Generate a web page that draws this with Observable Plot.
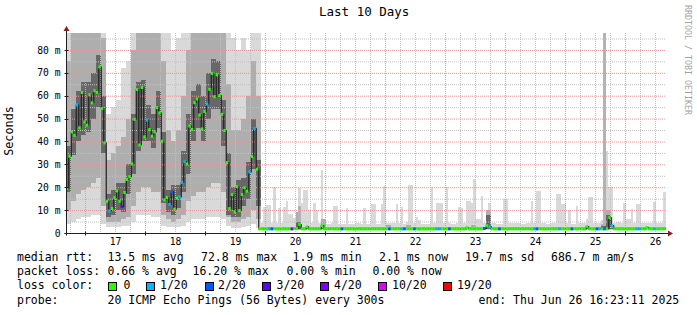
<!DOCTYPE html>
<html><head><meta charset="utf-8">
<script src="https://cdn.jsdelivr.net/npm/d3@7"></script>
<script src="https://cdn.jsdelivr.net/npm/@observablehq/plot@0.6"></script>
<style>
html,body{margin:0;padding:0;background:#fff;}
#wrap{position:relative;width:697px;height:315px;overflow:hidden;font-family:"DejaVu Sans Mono",monospace;background:#fff;}
#wrap svg{position:absolute;left:0;top:0;}
.t{position:absolute;white-space:pre;color:#000;line-height:1;}
</style></head><body><div id="wrap"></div>
<script>
// ---------- DATA ----------
const startUTC = Date.UTC(2025, 5, 16, 16, 23, 11);
const endUTC = Date.UTC(2025, 5, 26, 16, 23, 11);
const yMax = 87.4;

// hourly median rtt (ms), one value per hour column
const median = [
19.7,33.8,44.4,42.9,56.2,46.2,61.6,48.8,47.3,60.6,
57.1,62.4,61.7,72.8,54.6,39.6,14.1,9.9,10.9,15.6,
18.6,14.1,11.7,17.9,23.6,24.8,30.4,49.9,62.9,38.7,
63.8,42.2,49.6,45.4,42.5,44.4,55.0,52.7,40.3,14.7,
15.7,12.7,18.2,10.6,15.4,16.0,22.3,31.3,30.4,47.0,
45.5,57.2,58.8,51.8,45.7,53.3,56.6,63.0,70.0,59.8,
69.3,60.3,52.1,45.0,31.0,10.9,17.0,9.5,20.5,10.0,
17.0,20.0,18.5,26.9,33.6,45.9,28.1,
2.0,2.1,2.0,2.0,2.0,2.0,2.0,2.0,1.9,2.0,
2.0,2.0,2.0,2.0,2.1,2.2,3.9,2.0,2.0,2.9,
2.0,2.0,2.0,2.0,2.0,3.5,2.0,2.0,2.0,2.1,
2.0,2.0,2.0,2.0,2.0,2.0,2.0,2.0,1.9,2.0,
2.0,2.0,2.0,2.0,2.0,2.0,2.0,2.0,2.0,2.0,
2.0,2.0,2.0,2.0,2.0,2.1,2.0,2.0,2.0,2.0,
2.0,2.0,2.0,2.0,1.9,2.0,2.0,2.0,2.0,2.0,
2.0,2.0,2.0,2.0,2.0,2.0,2.0,2.0,2.0,2.0,
2.0,2.0,2.0,2.5,2.0,2.0,2.0,2.0,2.0,2.0,
2.2,3.4,3.0,2.0,2.0,2.0,2.0,2.0,2.0,2.0,
2.0,2.0,2.0,2.0,2.0,2.0,2.0,2.1,2.0,2.0,
2.0,2.0,2.0,2.0,2.0,2.0,2.0,2.0,2.0,2.0,
2.0,2.0,2.0,2.0,2.0,2.0,2.0,2.0,2.1,2.0,
2.0,3.0,2.0,2.0,2.0,2.0,2.0,2.0,2.0,2.0,
6.9,3.4,2.0,2.0,2.0,2.0,2.0,2.0,2.0,2.0,
2.0,2.0,2.0,2.0,2.0,2.6,2.0,2.0,2.0,2.0,
2.0,2.0,2.1
];

// hour columns with packet loss, and the loss (x/20) in each
const lossIdx = [4,17,22,32,41,42,45,46,47,56,73,75,
  81,82,90,110,129,134,135,139,148,149,153,167,169,173,187,188,197,202,212,213,215,218,228,229,235];
const lossLvl = [1,1,3,1,1,2,1,1,1,1,1,1,
  1,2,4,2,2,1,2,2,1,1,2,2,1,2,1,2,1,2,2,1,2,1,1,1,1];

const lossLevels = [0, 1, 2, 3, 4, 10, 19];
const lossColors = ["#26ff00", "#00b8ff", "#0059ff", "#5e00ff", "#7e00ff", "#dd00ff", "#ff0000"];
const lossLabels = ["0", "1/20", "2/20", "3/20", "4/20", "10/20", "19/20"];

// smoke: ping spread per 2-hour bin (ms) — lowest, 15%, 35%, 65%, 85%, highest
const smokeQ0 = [
4,5,6,7,7,8,8,4,2.5,2.5, 2.5,3,3,5,8,8,8,7,7,3,
2.5,2.5,2.5,3,5,6,6,6,7,7, 7,6,3,2,2,2.5,3,4,2,1.4,
1.4,1.4,1.4,1.4,1.4,1.4,1.4,1.4,1.4,1.4, 1.4,1.4,1.4,1.4,1.4,1.4,1.4,1.4,1.4,1.4,
1.4,1.4,1.4,1.4,1.4,1.4,1.4,1.4,1.4,1.4, 1.4,1.4,1.4,1.4,1.4,1.4,1.4,1.4,1.4,1.4,
1.4,1.4,1.4,1.4,1.4,1.4,1.4,1.4,1.4,1.4, 1.4,1.4,1.4,1.4,1.4,1.4,1.4,1.4,1.4,1.4,
1.4,1.4,1.4,1.4,1.4,1.4,1.4,1.4,1.4,1.4, 1.4,1.4,1.4,1.4,1.4,1.4,1.4,1.4,1.4,1.4
];
const smokeQ15 = [
10,14,17,19,20,22,24,12,5,5, 5,6,7,12,18,20,20,18,18,8,
6,5,6,8,14,16,18,18,20,22, 22,18,7,5,5,6,7,10,6,1.7,
1.7,1.7,1.7,1.7,1.7,1.7,1.7,1.7,1.7,1.7, 1.7,1.7,1.7,1.7,1.7,1.7,1.7,1.7,1.7,1.7,
1.7,1.7,1.7,1.7,1.7,1.7,1.7,1.7,1.7,1.7, 1.7,1.7,1.7,1.7,1.7,1.7,1.7,1.7,1.7,1.7,
1.7,1.7,1.7,1.7,1.7,1.7,1.7,1.7,1.7,1.7, 1.7,1.7,1.7,1.7,1.7,1.7,1.7,1.7,1.7,1.7,
1.7,1.7,1.7,1.7,1.7,1.7,1.7,1.7,1.7,1.7, 1.7,1.7,1.7,1.7,1.7,1.7,1.7,1.7,1.7,1.7
];
const smokeQ35 = [
18,34,40,43,44,50,55,35,7,8, 10,9,17,26,36,40,40,37,46,13,
9,8,11,18,26,40,46,40,50,54, 54,38,8,7,7,12,15,28,12,1.9,
1.9,1.9,1.9,1.9,1.9,1.9,1.9,1.9,1.9,1.9, 1.9,1.9,1.9,1.9,1.9,1.9,1.9,1.9,1.9,1.9,
1.9,1.9,1.9,1.9,1.9,1.9,1.9,1.9,1.9,1.9, 1.9,1.9,1.9,1.9,1.9,1.9,1.9,1.9,1.9,1.9,
1.9,1.9,1.9,1.9,1.9,1.9,1.9,1.9,1.9,1.9, 1.9,1.9,1.9,1.9,1.9,1.9,1.9,1.9,1.9,1.9,
1.9,1.9,1.9,1.9,1.9,1.9,1.9,1.9,1.9,1.9, 1.9,1.9,1.9,1.9,1.9,1.9,1.9,1.9,1.9,1.9
];
const smokeQ65 = [
38,54,62,66,66,70,78,60,17,19, 22,22,30,52,66,67,56,52,62,44,
19,21,21,36,52,62,65,60,70,76, 75,58,35,20,23,24,31,50,32,2.3,
2.3,2.3,2.3,2.3,2.3,2.3,5,2.3,2.3,2.3, 2.3,2.3,2.3,2.3,2.3,2.3,2.3,2.3,2.3,2.3,
2.3,2.3,2.3,2.3,2.3,2.3,2.3,2.3,2.3,2.3, 2.3,2.3,2.3,2.3,2.3,2.3,2.3,2.3,2.3,2.3,
2.3,2.3,2.3,2.3,7.9,2.3,2.3,2.3,2.3,2.3, 2.3,2.3,2.3,2.3,2.3,2.3,2.3,2.3,2.3,2.3,
2.3,2.3,2.3,2.3,2.3,2.3,2.3,3,8,2.3, 2.3,2.3,2.3,2.3,2.3,2.3,2.3,2.3,2.3,2.3
];
const smokeQ85 = [
75,88,95,95,95,95,95,85,32,35, 38,42,50,80,92,95,92,90,92,75,
45,40,45,60,80,90,92,92,95,95, 95,90,65,45,45,50,60,75,60,2.8,
2.8,2.8,2.8,2.8,2.8,2.8,9,2.8,2.8,2.8, 2.8,6,2.8,2.8,2.8,2.8,2.8,2.8,2.8,2.8,
2.8,2.8,2.8,2.8,3.5,2.8,2.8,2.8,3.5,2.8, 2.8,2.8,2.8,2.8,2.8,2.8,2.8,2.8,2.8,2.8,
2.8,3.5,2.8,2.8,10,2.8,2.8,2.8,2.8,2.8, 2.8,2.8,2.8,2.8,2.8,2.8,2.8,2.8,2.8,2.8,
2.8,2.8,2.8,2.8,2.8,2.8,2.8,4,10,2.8, 2.8,2.8,2.8,2.8,2.8,2.8,2.8,2.8,2.8,2.8
];
const smokeQ100 = [
95,95,95,95,95,95,95,95,52,55, 58,72,75,95,95,95,95,95,95,95,
90,80,85,95,95,95,95,95,95,95, 95,95,95,85,80,85,80,95,95,4.5,
4.5,4.5,4.5,4.5,4.5,6.5,6,4.5,4.5,4.5, 4.5,4.5,4,4.5,4,4,4,4,4.5,4,
4,4.5,4,4.5,4.5,4.5,4.5,4,5,4.5, 5.5,4,4,4.5,4.5,4.5,4.5,4,4.5,4.5,
5,5.5,6,4.5,5.5,4.5,4,4,4.5,4.5, 4.5,4,4.5,4.5,5,4.5,4,4.5,5,4.5,
4.5,4,4.5,4.5,6,4.5,4.5,5.5,6,4.5, 5,4.5,6,4.5,5,4.5,4.5,4.5,4.5,4.5
];

// narrow light-grey spikes in single hour columns (ms)
const spikeCol = [79,80,81,83,85,87,88,89,90,93,94,95,96,97,99,100,102,107,108,112,119,122,123,126,127,
  132,134,137,138,140,146,148,149,150,152,157,158,160,161,162,163,166,169,175,176,186,188,189,
  196,197,198,199,201,204,209,210,216,217,218,223,226,228,229,235,239];
const spikeTop = [11.3,12.3,12.3,20,11,11.5,14,8.5,8.5,19.5,13,19,19,10,13,10,27.5,12,12,11,11,12.5,12.5,12.5,20.5,
  12.5,11.5,21,21,7,20,13,13,13,20,11.5,11,14,14,13,23.4,16,13,14.7,14.7,14,18.5,18.5,
  17,17,12.5,12.5,10,12,15.6,15.6,36,20,20,13,10.6,12.8,12.8,13.5,18];
// darker spikes (ms)
const darkSpikeCol = [93, 215];
const darkSpikeTop = [12, 95];

const dayLabels = ["17","18","19","20","21","22","23","24","25","26"];
const yTicks = [0,10,20,30,40,50,60,70,80];
const yTickLabels = ["0","10 m","20 m","30 m","40 m","50 m","60 m","70 m","80 m"];

const titleText = "Last 10 Days";
const yLabelText = "Seconds";
const watermarkText = "RRDTOOL / TOBI OETIKER";
const legendMedian = ["median rtt:", "13.5 ms avg", "72.8 ms max", "1.9 ms min", "2.1 ms now", "19.7 ms sd", "686.7 m am/s"];
const legendLoss = ["packet loss:", "0.66 % avg", "16.20 % max", "0.00 % min", "0.00 % now"];
const legendColorTitle = "loss color:";
const legendProbe = ["probe:", "20 ICMP Echo Pings (56 Bytes) every 300s", "end: Thu Jun 26 16:23:11 2025"];

// ---------- BUILD ----------
const HOUR = 3600 * 1000;
const colOffset = -0.1;
const smokeFloor = 1.4;
const t = h => new Date(startUTC + h * HOUR);
const lossByCol = new Map(lossIdx.map((k, i) => [k, lossLvl[i]]));
const lossColor = lvl => lossColors[lossLevels.indexOf(lvl)];

const cols = median.map((v, k) => ({
  x1: t(k + colOffset), x2: t(k + 1 + colOffset), y: v, loss: lossByCol.get(k) ?? 0
}));
const linePts = cols.map(c => ({x: c.x1, y: c.y}))
  .concat([{x: cols[cols.length - 1].x2, y: cols[cols.length - 1].y}]);
const bins = smokeQ0.map((_, j) => ({
  x1: t(2 * j + colOffset), x2: t(2 * j + 2 + colOffset),
  q0: smokeQ0[j], q15: smokeQ15[j], q35: smokeQ35[j],
  q65: smokeQ65[j], q85: smokeQ85[j], q100: smokeQ100[j]
}));
const spikes = spikeCol.map((k, i) => ({x1: t(k + colOffset), x2: t(k + 1 + colOffset), y1: smokeFloor, y2: spikeTop[i]}));
const darkSpikes = darkSpikeCol.map((k, i) => ({x1: t(k + colOffset), x2: t(k + 1 + colOffset), y1: smokeFloor, y2: darkSpikeTop[i]}));

const t0 = new Date(startUTC), t1 = new Date(endUTC);
const midnights = d3.utcDay.range(t0, t1);
const sixHours = d3.utcHour.every(6).range(t0, t1).filter(d => d.getUTCHours() !== 0);
const noons = midnights.map(d => new Date(+d + 12 * HOUR));
const minorY = d3.range(5, yMax, 10);
const majorY = yTicks.filter(v => v > 0);

const gridMinor = "#c0c0c0", gridMajor = "#e69696";
const cLight = "#d9d9d9", cMid = "#aeaeae", cDark = "#676767";

const chart = Plot.plot({
  width: 697, height: 315,
  marginLeft: 66, marginRight: 31, marginTop: 33, marginBottom: 82,
  x: {type: "utc", domain: [t0, t1]},
  y: {domain: [0, yMax]},
  style: {fontFamily: "DejaVu Sans Mono", background: "#fff", color: "#000", overflow: "visible"},
  marks: [
    Plot.rect(bins, {x1: "x1", x2: "x2", y1: "q0", y2: "q100", fill: cLight, clip: true, shapeRendering: "crispEdges"}),
    Plot.rect(spikes, {x1: "x1", x2: "x2", y1: "y1", y2: "y2", fill: cLight, clip: true, shapeRendering: "crispEdges"}),
    Plot.rect(bins, {x1: "x1", x2: "x2", y1: "q15", y2: "q85", fill: cMid, clip: true, shapeRendering: "crispEdges"}),
    Plot.rect(darkSpikes, {x1: "x1", x2: "x2", y1: "y1", y2: "y2", fill: "#b3b3b3", clip: true, shapeRendering: "crispEdges"}),
    Plot.rect(bins, {x1: "x1", x2: "x2", y1: "q35", y2: "q65", fill: cDark, clip: true, shapeRendering: "crispEdges"}),
    Plot.ruleY(minorY, {stroke: gridMinor, strokeDasharray: "1,1"}),
    Plot.ruleX(sixHours, {stroke: gridMinor, strokeDasharray: "1,1"}),
    Plot.ruleY(majorY, {stroke: gridMajor, strokeDasharray: "1,1"}),
    Plot.ruleX(midnights, {stroke: gridMajor, strokeDasharray: "1,1"}),
    Plot.line(linePts, {x: "x", y: "y", curve: "step-after", stroke: "#202020", strokeWidth: 1.2, clip: true}),
    Plot.ruleY(cols, {x1: "x1", x2: "x2", y: "y", stroke: d => lossColor(d.loss), strokeWidth: 3, clip: true}),
    Plot.axisY(yTicks, {tickSize: 0, tickPadding: 6, fontSize: 9.7, fill: "#000", label: null,
      tickFormat: d => yTickLabels[yTicks.indexOf(d)]}),
    Plot.axisX(noons, {tickSize: 0, tickPadding: 5, fontSize: 9.7, fill: "#000", label: null,
      tickFormat: d => dayLabels[noons.findIndex(n => +n === +d)]})
  ]
});

const wrap = document.getElementById("wrap");
wrap.appendChild(chart);

// axes lines and arrows, positioned from the chart's scales
const xs = chart.scale("x"), ys = chart.scale("y");
const ax0 = Math.round(xs.apply(t0)) + 0.5, ax1 = xs.apply(t1);
const ay0 = Math.round(ys.apply(0)) + 0.5, ayTop = ys.apply(yMax);
const svg = d3.select(chart);
const g = svg.append("g");
g.append("line").attr("x1", ax0 - 2).attr("x2", ax1 + 3).attr("y1", ay0).attr("y2", ay0)
  .attr("stroke", "#1f1f1f").attr("stroke-width", 1);
g.append("line").attr("x1", ax0).attr("x2", ax0).attr("y1", ay0 + 2).attr("y2", ayTop - 3)
  .attr("stroke", "#1f1f1f").attr("stroke-width", 1);
g.append("path").attr("d", `M${ax1 + 7},${ay0} L${ax1 + 2},${ay0 - 3} L${ax1 + 2},${ay0 + 3} Z`).attr("fill", "#7f1f1f");
g.append("path").attr("d", `M${ax0},${ayTop - 7} L${ax0 - 3},${ayTop - 2} L${ax0 + 3},${ayTop - 2} Z`).attr("fill", "#7f1f1f");
yTicks.forEach(v => {
  const y = Math.round(ys.apply(v)) + 0.5;
  g.append("line").attr("x1", ax0 - 2).attr("x2", ax0 + 2).attr("y1", y).attr("y2", y).attr("stroke", "#1f1f1f");
});
midnights.forEach(d => {
  const x = Math.round(xs.apply(d)) + 0.5;
  g.append("line").attr("x1", x).attr("x2", x).attr("y1", ay0 - 2).attr("y2", ay0 + 2).attr("stroke", "#1f1f1f");
});

// ---------- TEXT OVERLAYS ----------
function txt(str, left, top, size, extra) {
  const d = document.createElement("div");
  d.className = "t";
  d.textContent = str;
  d.style.left = left + "px";
  d.style.top = top + "px";
  d.style.fontSize = size + "px";
  if (extra) Object.assign(d.style, extra);
  wrap.appendChild(d);
  return d;
}
txt(titleText, 319, 6, 12.5);
txt(yLabelText, 10, 131, 11.8, {transform: "translate(-50%,-50%) rotate(-90deg)"});
txt(watermarkText, 688, 60, 8.3, {color: "#a3a3a3", transform: "translate(-50%,-50%) rotate(90deg)"});

const legendFont = 11.5;
const rowTop = [252, 266, 280, 295];
const row1X = [17, 107.5, 201, 292.5, 379, 465, 551];
legendMedian.forEach((s, i) => txt(s, row1X[i], rowTop[0], legendFont));
const row2X = [17, 107.5, 192.5, 286.5, 372.5];
legendLoss.forEach((s, i) => txt(s, row2X[i], rowTop[1], legendFont));
txt(legendColorTitle, 17, rowTop[2], legendFont);
const boxX = [108, 145.5, 204.5, 262, 320, 378, 443];
const labX = [123.5, 160, 218, 276.5, 334, 392, 457];
lossLabels.forEach((s, i) => {
  const b = document.createElement("div");
  b.style.cssText = `position:absolute;left:${boxX[i]}px;top:${rowTop[2] + 2}px;width:9px;height:9px;box-sizing:border-box;border:1px solid #000;background:${lossColors[i]};`;
  wrap.appendChild(b);
  txt(s, labX[i], rowTop[2], legendFont);
});
const row4X = [17, 107.5, 478.5];
legendProbe.forEach((s, i) => txt(s, row4X[i], rowTop[3], legendFont));
</script></body></html>
